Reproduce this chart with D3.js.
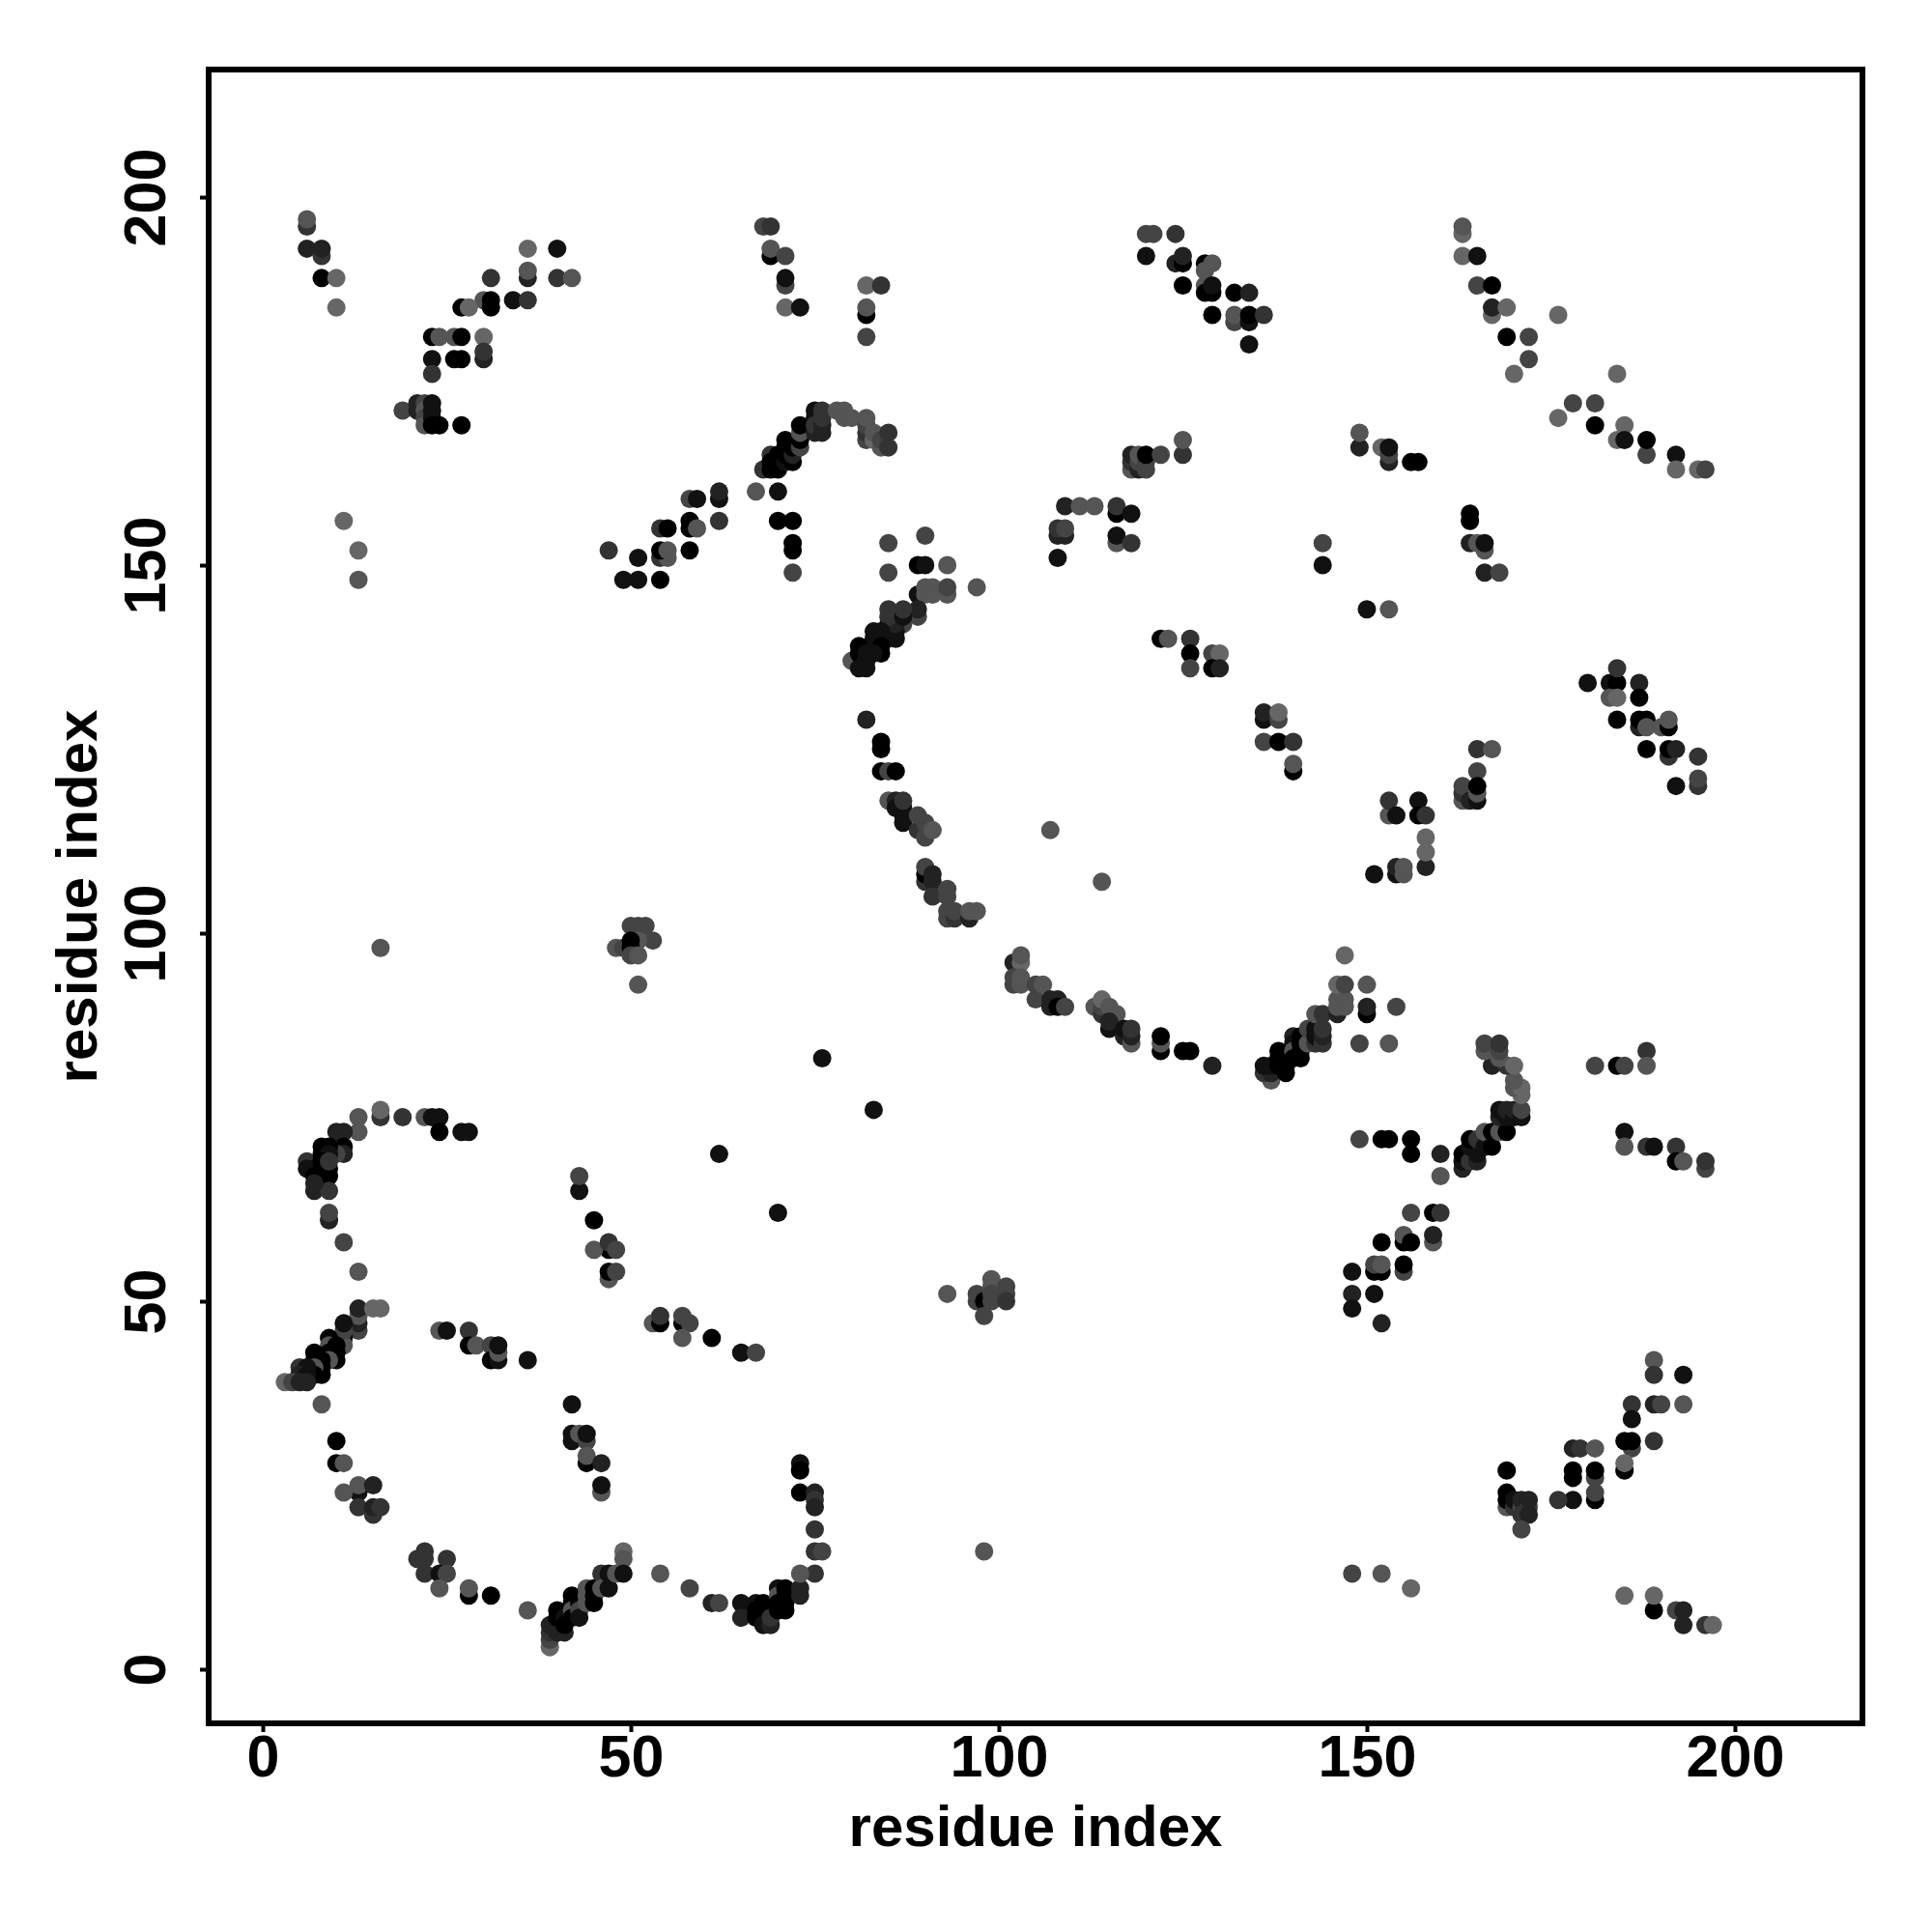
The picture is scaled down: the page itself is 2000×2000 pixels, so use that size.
<!DOCTYPE html>
<html><head><meta charset="utf-8">
<script src="https://cdn.jsdelivr.net/npm/d3@7"></script>
<style>html,body{margin:0;padding:0;background:#fff}svg{display:block}text{font-family:"Liberation Sans",Arial,sans-serif;font-weight:700;fill:#000}</style>
</head><body><svg id="c" width="2000" height="2000"></svg>
<script>
// each contact: [residue x, residue y, tone level 0 (strong) .. 6 (weak)]
const tickValues=[0,50,100,150,200];
const axisTitle="residue index";
const arcLowerLeftTop=[[13,75,5],[13,73,5],[16,75,3],[16,76,6],[19,75,3],[22,75,5],[23,75,1],[24,75,1],[24,73,0],[27,73,1],[28,73,1],[10,73,2],[11,73,2],[11,71,0],[11,70,2],[10,70,4],[8,71,0],[9,71,0],[6,69,3],[6,68,1],[7,68,1],[8,68,0],[9,68,0],[7,67,0],[8,67,0],[9,67,0],[7,65,2],[9,65,3],[7,66,2],[8,70,0],[9,70,1],[8,69,0],[9,69,3],[9,61,2],[9,62,4],[11,58,4],[13,54,5]];
const diagLowerLeft=[[13,46,4],[13,47,2],[13,48,5],[13,49,2],[15,49,6],[16,49,6],[11,45,1],[11,44,5],[11,46,4],[11,47,1],[9,45,0],[9,44,5],[10,44,0],[10,43,0],[10,42,0],[9,43,0],[9,42,5],[7,43,0],[7,42,0],[8,42,0],[8,41,0],[8,40,0],[7,41,5],[7,40,0],[5,41,3],[6,41,1],[5,40,2],[6,40,1],[3,39,6],[4,39,4],[5,39,2],[6,39,2],[8,36,5],[10,31,0],[10,28,0],[11,28,5],[13,24,1],[13,25,5],[15,25,2],[11,24,5],[13,22,3],[15,21,3],[15,22,2],[16,22,3]];
const midLowerLeft=[[43,65,1],[43,67,4],[45,61,0],[47,57,0],[45,57,5],[47,58,3],[48,57,4],[47,53,5],[47,54,0],[48,54,4],[53,47,5],[54,47,0],[54,48,3],[57,47,0],[57,48,4],[58,47,4],[57,45,5],[61,45,0],[65,43,1],[67,43,4],[62,70,1],[70,62,1],[24,46,5],[25,46,1],[28,46,3],[28,44,0],[29,44,5],[31,44,4],[31,42,0],[32,42,1],[32,43,5],[32,44,1],[36,42,1],[42,36,1],[42,31,1],[42,32,1],[43,32,5],[44,31,4],[44,32,1],[44,28,0],[44,29,5],[46,28,2],[46,24,5],[46,25,1],[76,83,1],[83,76,1]];
const bottomArc=[[73,28,1],[73,27,0],[73,24,0],[75,24,2],[75,23,3],[75,22,2],[75,19,3],[75,16,3],[76,16,4],[75,13,3],[21,15,3],[22,16,3],[22,15,3],[22,13,3],[25,15,3],[24,13,1],[25,13,4],[24,11,5],[28,10,0],[28,11,5],[31,10,0],[36,8,5]];
const bottomDiag=[[39,3,6],[39,4,4],[39,5,3],[39,6,2],[40,5,2],[41,5,2],[40,8,0],[40,7,0],[41,7,1],[41,6,0],[42,10,0],[42,9,0],[42,8,5],[42,7,0],[43,9,0],[43,8,4],[43,7,1],[44,11,5],[44,10,5],[44,9,5],[45,11,0],[45,10,0],[45,9,0],[46,13,3],[46,11,5],[47,11,1],[47,13,1],[48,13,5],[49,16,6],[49,15,5],[49,13,1],[54,13,5],[58,11,4],[61,9,2],[62,9,4],[65,9,1],[65,7,2],[67,9,1],[67,8,0],[67,7,0],[68,9,0],[68,8,0],[68,7,0],[68,6,1],[69,6,2],[69,7,3],[70,11,1],[70,10,5],[70,9,0],[70,8,0],[71,11,0],[71,10,0],[71,9,0],[71,8,0],[73,10,2],[73,11,2],[73,13,5],[98,16,5]];
const clusterNear100=[[48,98,5],[49,98,4],[50,101,4],[51,101,4],[52,101,4],[53,99,4],[51,99,5],[50,99,0],[50,98,0],[50,97,4],[51,97,5],[51,93,5],[16,98,5],[93,51,5],[97,51,4],[97,50,4],[98,50,0],[98,48,4],[99,53,5],[99,52,5],[99,51,4],[99,50,4],[101,52,4],[101,51,4],[101,50,3]];
const upperMidRise=[[47,152,3],[51,151,1],[49,148,1],[51,148,1],[54,148,0],[54,151,3],[55,151,5],[54,152,0],[55,152,5],[54,155,3],[55,155,0],[58,152,0],[58,156,0],[58,155,0],[59,155,5],[58,159,4],[59,159,1],[62,159,1],[62,160,2],[62,156,3],[67,160,5],[70,160,1],[70,156,0],[72,156,0],[72,153,0],[72,152,0],[72,149,4]];
const upperMidArc=[[68,163,3],[69,165,3],[69,164,0],[69,163,0],[70,165,0],[70,164,0],[70,163,0],[71,164,1],[71,165,0],[71,166,0],[71,167,0],[72,164,0],[72,165,2],[72,166,0],[73,166,4],[73,167,0],[73,168,5],[73,169,0],[75,171,1],[75,170,1],[75,168,2],[75,169,3],[76,168,2],[76,169,2],[76,170,3],[76,171,3],[78,171,5],[79,170,5],[79,171,5],[80,170,5],[82,167,4],[82,168,3],[82,169,4],[82,170,5],[83,167,6],[83,168,5],[84,166,5],[84,167,4],[85,168,3],[85,166,3]];
const centreRise=[[85,153,4],[85,149,4],[90,154,4],[89,150,0],[90,150,1],[93,150,5],[97,147,5],[89,146,1],[90,147,5],[90,146,5],[91,147,5],[91,146,5],[93,146,5],[93,147,4],[89,143,4],[89,144,2],[87,142,4],[85,140,5],[85,142,0],[86,140,1],[86,141,1],[86,142,2],[85,143,3],[85,144,3],[87,143,1],[87,144,3],[83,140,1],[83,141,1],[84,141,1],[84,139,0],[84,138,0],[83,138,1],[80,137,5],[81,139,0],[81,138,0],[82,138,1],[82,137,1],[81,136,1],[82,136,1]];
const centreDescent=[[82,129,2],[84,126,0],[84,125,0],[84,122,0],[85,122,4],[86,122,0],[85,118,5],[86,118,2],[86,117,1],[87,115,1],[87,116,1],[87,117,1],[87,118,3],[89,114,3],[89,116,4],[90,113,4],[90,115,4],[91,114,5],[90,107,3],[90,108,0],[90,109,4],[91,107,2],[91,108,2],[91,105,3],[93,105,4],[93,106,4],[93,102,4],[93,103,4],[94,102,3],[94,103,4],[96,102,2],[96,103,5],[97,103,5],[107,114,5],[114,107,5]];
const topLeft=[[6,196,3],[6,197,5],[6,193,2],[8,192,3],[8,193,2],[8,189,0],[10,189,6],[10,185,6],[36,193,6],[40,193,1],[31,189,3],[36,189,2],[36,190,5],[40,189,3],[42,189,5],[30,186,5],[31,186,0],[31,185,0],[34,186,1],[36,186,3],[27,185,0],[28,185,6],[23,181,0],[24,181,5],[26,181,5],[27,181,0],[30,181,6],[30,178,2],[30,179,3],[23,178,1],[26,178,0],[27,178,0],[23,176,3],[19,171,4],[21,172,2],[21,171,2],[22,172,4],[22,171,5],[22,170,4],[22,169,5],[23,172,1],[23,171,1],[23,170,1],[23,169,0],[24,169,0],[27,169,0],[11,156,6],[13,152,6],[13,148,5]];
const topMiddle=[[68,196,4],[69,196,3],[69,192,0],[69,193,5],[71,192,4],[71,188,4],[71,189,1],[71,185,6],[73,185,1],[82,188,6],[84,188,3],[82,184,0],[82,185,5],[82,181,4]];
const topRightA=[[120,195,4],[121,195,4],[124,195,3],[120,192,1],[124,191,2],[125,191,0],[125,192,2],[128,191,0],[128,190,5],[129,191,5],[125,188,0],[128,188,5],[128,187,0],[129,187,0],[129,188,1],[132,187,0],[134,187,2],[129,184,0],[132,183,4],[132,184,5],[134,183,1],[134,184,0],[136,184,3],[134,180,1]];
const topRightB=[[163,195,6],[163,196,5],[163,192,6],[165,192,1],[165,188,4],[167,188,0],[167,184,6],[167,185,2],[169,185,6],[176,184,6],[169,181,0],[172,181,4],[172,178,4],[170,176,6],[184,176,6],[178,172,4],[181,172,4],[176,170,6],[181,169,0],[184,167,6],[185,169,6],[185,167,1],[188,165,4],[188,167,0],[192,165,1],[192,163,6],[195,163,6],[196,163,4]];
const midUpper=[[118,163,5],[118,164,3],[118,165,2],[119,163,2],[119,164,4],[119,165,5],[120,163,4],[120,164,4],[120,165,0],[122,165,4],[125,165,3],[125,167,5],[149,166,2],[149,168,5],[152,166,6],[153,164,2],[153,165,4],[153,166,1],[156,164,0],[157,164,0],[109,158,2],[111,158,5],[113,158,5],[116,157,0],[116,158,3],[118,157,1],[116,153,5],[116,154,1],[118,153,3],[108,151,1],[108,154,2],[109,154,2],[108,155,3],[109,155,4],[144,153,4],[144,150,1],[164,157,0],[164,156,0],[164,153,2],[165,153,5],[166,152,5],[166,153,1],[166,149,2],[168,149,4]];
const midRight=[[150,144,1],[153,144,5],[122,140,0],[123,140,5],[126,140,3],[126,138,0],[126,136,4],[129,138,4],[130,138,6],[129,136,0],[130,136,2],[136,129,1],[136,130,2],[138,129,4],[138,130,6],[136,126,4],[138,126,0],[140,126,3],[140,122,0],[140,123,5],[153,116,5],[153,118,3],[154,116,1],[157,118,1],[157,116,0],[158,116,3],[158,109,2],[158,111,6],[158,113,6],[151,108,1],[154,108,1],[154,109,2],[155,108,5],[155,109,5],[165,125,3],[167,125,5],[165,122,4],[163,118,5],[163,119,3],[163,120,4],[164,118,2],[165,118,1],[165,119,5],[165,120,0]];
const farRight=[[180,134,1],[183,134,1],[184,134,0],[184,136,3],[187,134,2],[187,132,0],[183,132,5],[184,132,6],[184,129,0],[187,128,2],[187,129,0],[188,129,0],[188,128,5],[190,128,5],[191,128,0],[191,129,5],[188,125,0],[191,124,3],[191,125,0],[192,125,2],[195,124,3],[192,120,1],[195,120,3],[195,121,4]];
const lowerArcA=[[102,96,2],[103,96,6],[103,97,5],[102,93,4],[102,94,4],[103,93,5],[103,94,5],[105,91,4],[105,93,4],[106,93,5],[107,90,2],[107,91,2],[108,91,2],[108,90,0],[109,90,4],[113,90,5],[114,89,3],[114,90,4],[114,91,6],[115,90,5],[116,89,5],[115,87,1],[115,88,2],[117,86,2],[117,87,1],[118,85,5],[118,86,2],[118,87,3],[122,84,0],[122,85,5],[122,86,0],[125,84,0],[126,84,0],[129,82,2]];
const lowerArcB=[[137,80,5],[136,81,3],[137,81,2],[136,82,1],[137,82,1],[138,82,0],[139,81,0],[139,82,0],[138,83,0],[138,84,0],[140,86,2],[140,85,1],[140,84,5],[140,83,0],[141,83,0],[141,84,0],[141,85,0],[141,86,0],[142,85,5],[142,87,4],[143,85,3],[143,86,1],[143,87,1],[143,89,5],[144,85,3],[144,86,2],[144,87,3],[144,89,3],[146,89,2],[146,90,5],[147,90,5],[146,91,5],[147,91,5],[146,93,6],[147,93,4],[147,97,6],[150,89,0],[150,90,2],[150,93,5],[154,90,4],[149,85,4],[153,85,5]];
const lowerRightChain=[[149,72,4],[152,72,0],[153,72,0],[156,70,0],[156,72,0],[160,70,2],[160,67,5],[163,68,2],[163,69,1],[163,70,0],[164,69,3],[165,69,2],[164,71,1],[165,70,1],[164,72,0],[165,72,3],[166,71,1],[166,73,5],[167,71,0],[167,73,0],[168,73,5],[169,73,0],[168,75,2],[168,76,1],[169,75,1],[169,76,2],[170,75,1],[170,76,2],[171,75,1],[171,76,4],[171,78,6],[170,79,5],[171,79,6],[170,80,5],[167,82,2],[169,82,3],[168,83,5],[170,82,6],[166,84,5],[168,84,4],[166,85,4],[168,85,3],[181,82,4],[184,82,0],[185,82,4],[188,84,3],[188,82,5],[185,73,1],[185,71,5],[188,71,3],[189,71,1],[192,71,3],[192,69,0],[193,69,5],[196,68,4],[196,69,3]];
const lowerRightSteps=[[156,62,4],[159,62,0],[160,62,3],[155,58,0],[155,59,5],[159,58,5],[159,59,2],[156,58,0],[152,58,0],[155,54,4],[155,55,0],[151,54,0],[152,54,0],[151,55,4],[152,55,5],[148,54,1],[148,51,2],[151,51,1],[148,49,1],[152,47,2]];
const bottomRight=[[189,42,5],[189,40,3],[193,40,1],[186,36,3],[189,36,2],[190,36,4],[193,36,5],[186,34,1],[186,30,4],[185,31,0],[186,31,0],[189,31,3],[178,30,2],[179,30,3],[181,30,5],[185,27,0],[185,28,6],[178,26,0],[178,27,0],[181,26,4],[181,27,0],[181,23,0],[181,24,4],[178,23,1],[176,23,3],[169,27,0],[169,22,5],[169,23,0],[169,24,0],[170,22,3],[170,23,1],[171,22,4],[171,23,2],[172,22,4],[172,23,2],[171,21,3],[172,21,2],[171,19,4],[148,13,4],[152,13,5],[156,11,6],[185,10,6],[189,8,0],[189,10,6],[192,8,4],[193,8,2],[193,6,2],[196,6,3],[197,6,6]];

const contacts=[arcLowerLeftTop,diagLowerLeft,midLowerLeft,bottomArc,bottomDiag,clusterNear100,upperMidRise,upperMidArc,centreRise,centreDescent,topLeft,topMiddle,topRightA,topRightB,midUpper,midRight,farRight,lowerArcA,lowerArcB,lowerRightChain,lowerRightSteps,bottomRight].flat();

const L=216,R=1928,T=72,B=1784;
const x=d3.scaleLinear().domain([-7.22,217.2]).range([217,1927]);
const y=d3.scaleLinear().domain([-7.22,217.2]).range([1783,73]);
const tone=d3.scaleLinear().domain([0,6]).range(["#000000","#666666"]);
const svg=d3.select("#c");

svg.append("g").selectAll("circle").data(contacts).join("circle")
  .attr("cx",d=>x(d[0])).attr("cy",d=>y(d[1])).attr("r",9.5).attr("fill",d=>tone(d[2]));

svg.append("rect").attr("x",L).attr("y",T).attr("width",R-L).attr("height",B-T)
  .attr("fill","none").attr("stroke","#000").attr("stroke-width",6);

const ax=svg.append("g").attr("transform",`translate(0,${B})`)
  .call(d3.axisBottom(x).tickValues(tickValues).tickSize(9));
ax.select(".domain").remove();
ax.selectAll("line").attr("stroke","#000").attr("stroke-width",4);
ax.selectAll("text").attr("font-size",61).attr("fill","#000").attr("dy",0).attr("y",1839-B);

const ay=svg.append("g").attr("transform",`translate(${L},0)`)
  .call(d3.axisLeft(y).tickValues(tickValues).tickSize(9));
ay.select(".domain").remove();
ay.selectAll("line").attr("stroke","#000").attr("stroke-width",4);
ay.selectAll("text").attr("font-size",61).attr("fill","#000")
  .attr("text-anchor","middle").attr("dy",0).attr("x",0).attr("y",0)
  .attr("transform","translate(-45,0) rotate(-90)");

svg.append("text").attr("x",(L+R)/2).attr("y",1911).attr("text-anchor","middle").attr("font-size",60).text(axisTitle);
svg.append("text").attr("transform",`translate(100,${(T+B)/2}) rotate(-90)`).attr("text-anchor","middle").attr("font-size",60).text(axisTitle);
</script></body></html>
